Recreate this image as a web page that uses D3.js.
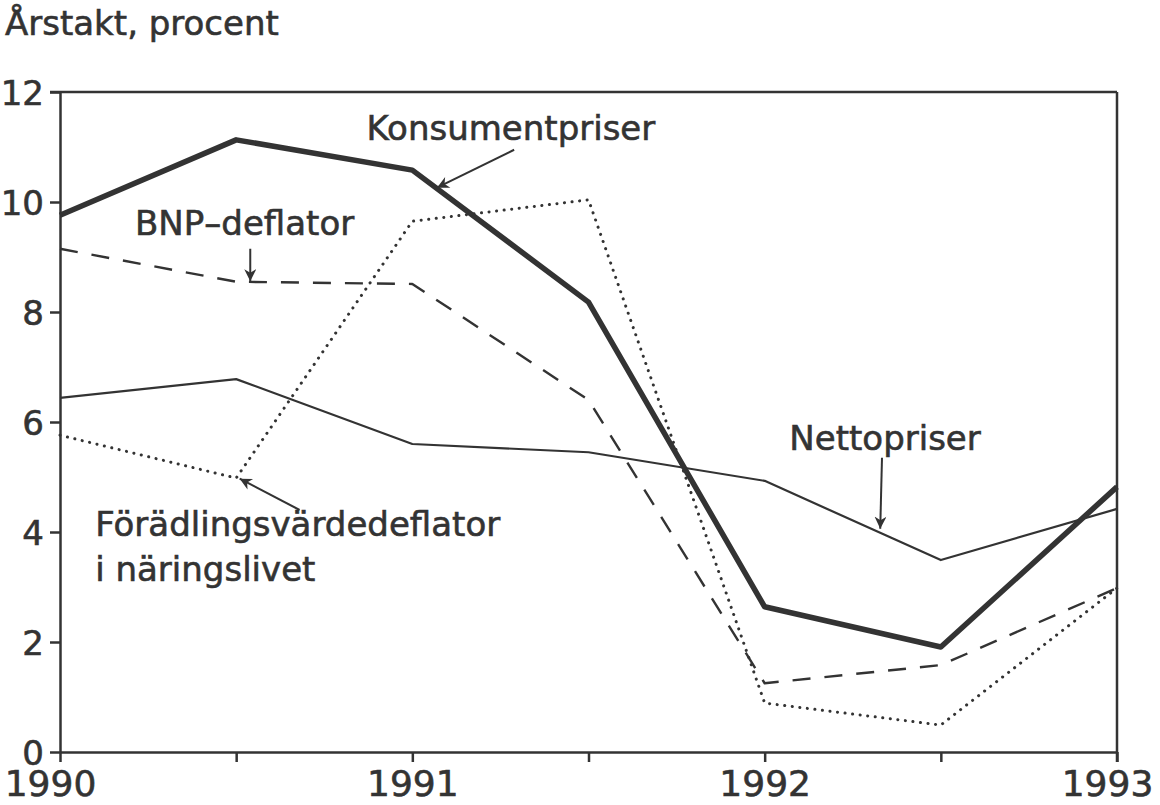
<!DOCTYPE html>
<html lang="sv">
<head>
<meta charset="UTF-8">
<title>Årstakt, procent</title>
<script src="https://cdn.jsdelivr.net/npm/d3@7"></script>
<style>
    body { margin: 0; background: #fff; }
    svg text { font-family: "DejaVu Sans", sans-serif; fill: #333; stroke: #333; stroke-width: 0.6px; }
</style>
</head>
<body>
<svg id="chart" width="1160" height="805"></svg>
<script>
// data (half-year points)
var years = [1990, 1990.5, 1991, 1991.5, 1992, 1992.5, 1993];
var konsumentpriser = [9.76, 11.13, 10.58, 8.18, 2.64, 1.91, 4.82];
var bnpDeflator = [9.15, 8.55, 8.51, 6.4, 1.25, 1.58, 2.98];
var nettopriser = [6.44, 6.78, 5.6, 5.45, 4.93, 3.49, 4.42];
var foradling = [5.76, 4.98, 9.65, 10.04, 0.89, 0.49, 2.98];
var yTicks = [0, 2, 4, 6, 8, 10, 12];
var xLabels = [1990, 1991, 1992, 1993];

var svg = d3.select("#chart");
var ink = "#333";

var x = d3.scaleLinear().domain([1990, 1993]).range([60, 1117]);
var y = d3.scaleLinear().domain([0, 12]).range([752, 92]);

// axes
var yAxis = d3.axisLeft(y).tickValues(yTicks).tickSize(10).tickSizeOuter(0).tickPadding(6);
var gy = svg.append("g").attr("transform", "translate(60,0)").call(yAxis);
gy.selectAll("text").style("font-size", "34px").attr("dy", "0.36em");

var xAxis = d3.axisBottom(x).tickValues(years).tickSize(10).tickSizeOuter(0).tickPadding(8)
    .tickFormat(function(d) { return xLabels.indexOf(d) >= 0 ? d : ""; });
var gx = svg.append("g").attr("transform", "translate(0,752)").call(xAxis);
gx.selectAll("text").style("font-size", "36px")
    .attr("dx", function(d) { return d === 1990 || d === 1993 ? -10 : 0; });

svg.selectAll(".domain, .tick line").attr("stroke", ink).attr("stroke-width", 2.5);

// frame top + right
svg.append("line").attr("x1", x(1990) - 10).attr("x2", x(1993))
    .attr("y1", y(12)).attr("y2", y(12)).attr("stroke", ink).attr("stroke-width", 2.5);
svg.append("line").attr("x1", x(1993)).attr("x2", x(1993))
    .attr("y1", y(12)).attr("y2", y(0) + 10).attr("stroke", ink).attr("stroke-width", 2.5);

svg.append("text").attr("x", 5).attr("y", 35).style("font-size", "34px").text("Årstakt, procent");

// series
var line = d3.line().x(function(d, i) { return x(years[i]); }).y(function(d) { return y(d); });

var series = [
    { values: foradling, width: 3, dash: "0.1 7.5", cap: "round" },
    { values: bnpDeflator, width: 2.4, dash: "18 14", cap: "butt" },
    { values: nettopriser, width: 2.2, dash: null, cap: "butt" },
    { values: konsumentpriser, width: 5.5, dash: null, cap: "butt" }
];

svg.selectAll("path.series").data(series).enter().append("path")
    .attr("class", "series")
    .attr("d", function(d) { return line(d.values); })
    .attr("fill", "none")
    .attr("stroke", ink)
    .attr("stroke-width", function(d) { return d.width; })
    .attr("stroke-dasharray", function(d) { return d.dash; })
    .attr("stroke-linecap", function(d) { return d.cap; })
    .attr("stroke-linejoin", "round");

// annotations, in data units
svg.append("defs").append("marker")
    .attr("id", "head").attr("viewBox", "0 0 10 10").attr("refX", 10).attr("refY", 5)
    .attr("markerWidth", 10).attr("markerHeight", 6).attr("markerUnits", "strokeWidth")
    .attr("orient", "auto")
    .append("path").attr("d", "M0,0 L10,5 L0,10 L3,5 Z").attr("fill", ink);

var notes = [
    { text: ["Konsumentpriser"], at: [1990.87, 11.13], from: [1991.289, 10.95], to: [1991.07, 10.26] },
    { text: ["BNP\u2013deflator"], at: [1990.213, 9.4], from: [1990.54, 9.15], to: [1990.54, 8.56] },
    { text: ["Nettopriser"], at: [1992.07, 5.5], from: [1992.333, 5.35], to: [1992.328, 4.06] },
    { text: ["Förädlingsvärdedeflator", "i näringslivet"], at: [1990.1, 3.92], from: [1990.68, 4.4], to: [1990.51, 4.97] }
];

notes.forEach(function(n) {
    var t = svg.append("text").attr("x", x(n.at[0])).attr("y", y(n.at[1])).style("font-size", "34px");
    n.text.forEach(function(s, i) {
        t.append("tspan").attr("x", x(n.at[0])).attr("dy", i === 0 ? 0 : 45).text(s);
    });
    svg.append("line")
        .attr("x1", x(n.from[0])).attr("y1", y(n.from[1]))
        .attr("x2", x(n.to[0])).attr("y2", y(n.to[1]))
        .attr("stroke", ink).attr("stroke-width", 2)
        .attr("marker-end", "url(#head)");
});
</script>
</body>
</html>
